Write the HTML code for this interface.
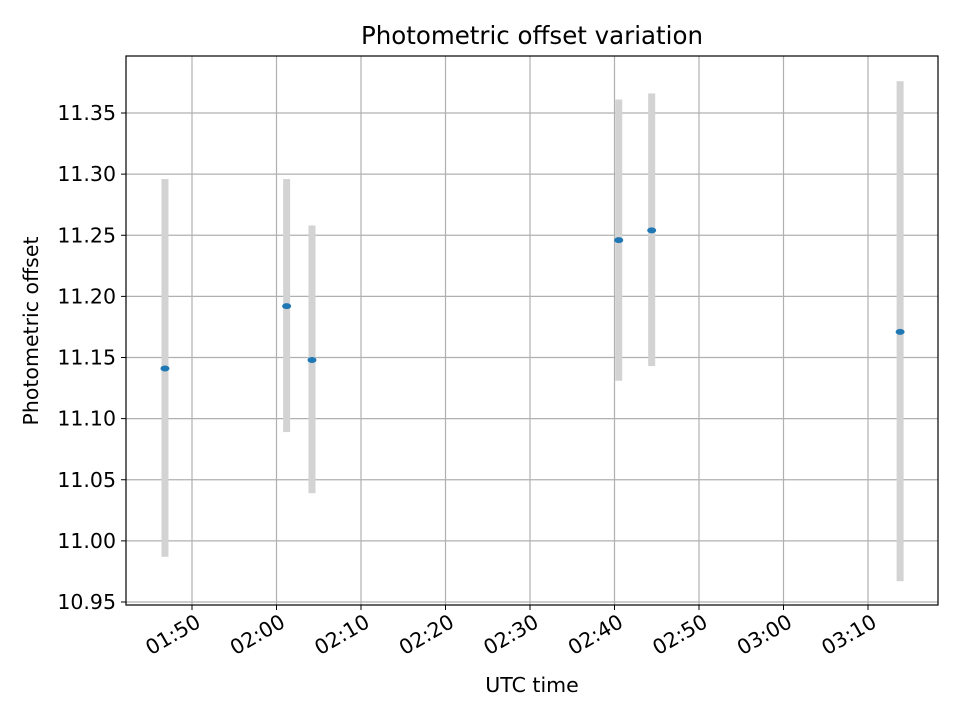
<!DOCTYPE html>
<html><head><meta charset="utf-8"><style>
body{margin:0;background:#fff;font-family:"Liberation Sans","DejaVu Sans",sans-serif;}
</style></head><body>
<svg id="chart" width="960" height="720" xmlns="http://www.w3.org/2000/svg" font-family="DejaVu Sans, Liberation Sans, sans-serif">
<rect width="960" height="720" fill="#fff"/>
<g id="grid"></g>
<g id="bars"></g>
<g id="pts"></g>
<rect x="126" y="56" width="812" height="549" fill="none" stroke="#000" stroke-width="1.2"/>
<g id="ticks"></g>
<text x="532" y="44" text-anchor="middle" font-size="24.5">Photometric offset variation</text>
<text x="532" y="692" text-anchor="middle" font-size="20.5">UTC time</text>
<text transform="translate(38,331) rotate(-90)" text-anchor="middle" font-size="20.5">Photometric offset</text>
</svg>
<script>
const times=["01:46.8","02:01.2","02:04.2","02:40.5","02:44.4","03:13.8"];
const offsets=[11.141,11.192,11.148,11.246,11.254,11.171];
const errLow=[10.987,11.089,11.039,11.131,11.143,10.967];
const errHigh=[11.296,11.296,11.258,11.361,11.366,11.376];
const yTicks=[10.95,11.00,11.05,11.10,11.15,11.20,11.25,11.30,11.35];
const xTicks=["01:50","02:00","02:10","02:20","02:30","02:40","02:50","03:00","03:10"];
const NS="http://www.w3.org/2000/svg";
function mins(t){const p=t.split(":");return (+p[0])*60+parseFloat(p[1]);}
function X(t){return 192+(mins(t)-110)*8.45;}
function Y(v){return 113+(11.35-v)/0.05*61.125;}
function mk(tag,attrs,parent){const e=document.createElementNS(NS,tag);for(const k in attrs)e.setAttribute(k,attrs[k]);document.getElementById(parent).appendChild(e);return e;}
yTicks.forEach(v=>{
 const y=Y(v);
 const g=mk("line",{x1:126,x2:938,y1:y,y2:y,stroke:"#b0b0b0","stroke-width":1.2},"grid");
 
 
 const t=mk("line",{x1:121,x2:126,y1:y,y2:y,stroke:"#000","stroke-width":1},"ticks");
 
 
 const l=mk("text",{x:116,y:y+7,"text-anchor":"end","font-size":"20.5"},"ticks");
 l.textContent=v.toFixed(2);
 
 
});
xTicks.forEach(s=>{
 const x=X(s);
 const g=mk("line",{x1:x,x2:x,y1:56,y2:605,stroke:"#b0b0b0","stroke-width":1.2},"grid");
 
 
 const t=mk("line",{x1:x,x2:x,y1:605,y2:610,stroke:"#000","stroke-width":1},"ticks");
 
 
 const ax=x+10, ay=626;
 const l=mk("text",{x:ax,y:ay,"text-anchor":"end","font-size":"20.5",transform:"rotate(-30 "+ax+" "+ay+")"},"ticks");
 l.textContent=s;
 
 
});
times.forEach((t,i)=>{
 const x=X(t);
 const b=mk("rect",{x:x-3.5,width:7,y:Y(errHigh[i]),height:Y(errLow[i])-Y(errHigh[i]),fill:"#d3d3d3"},"bars");
 
 
 const p=mk("ellipse",{cx:x,cy:Y(offsets[i]),rx:4.5,ry:3,fill:"#1f77b4"},"pts");
 
 
});
</script>
</body></html>
